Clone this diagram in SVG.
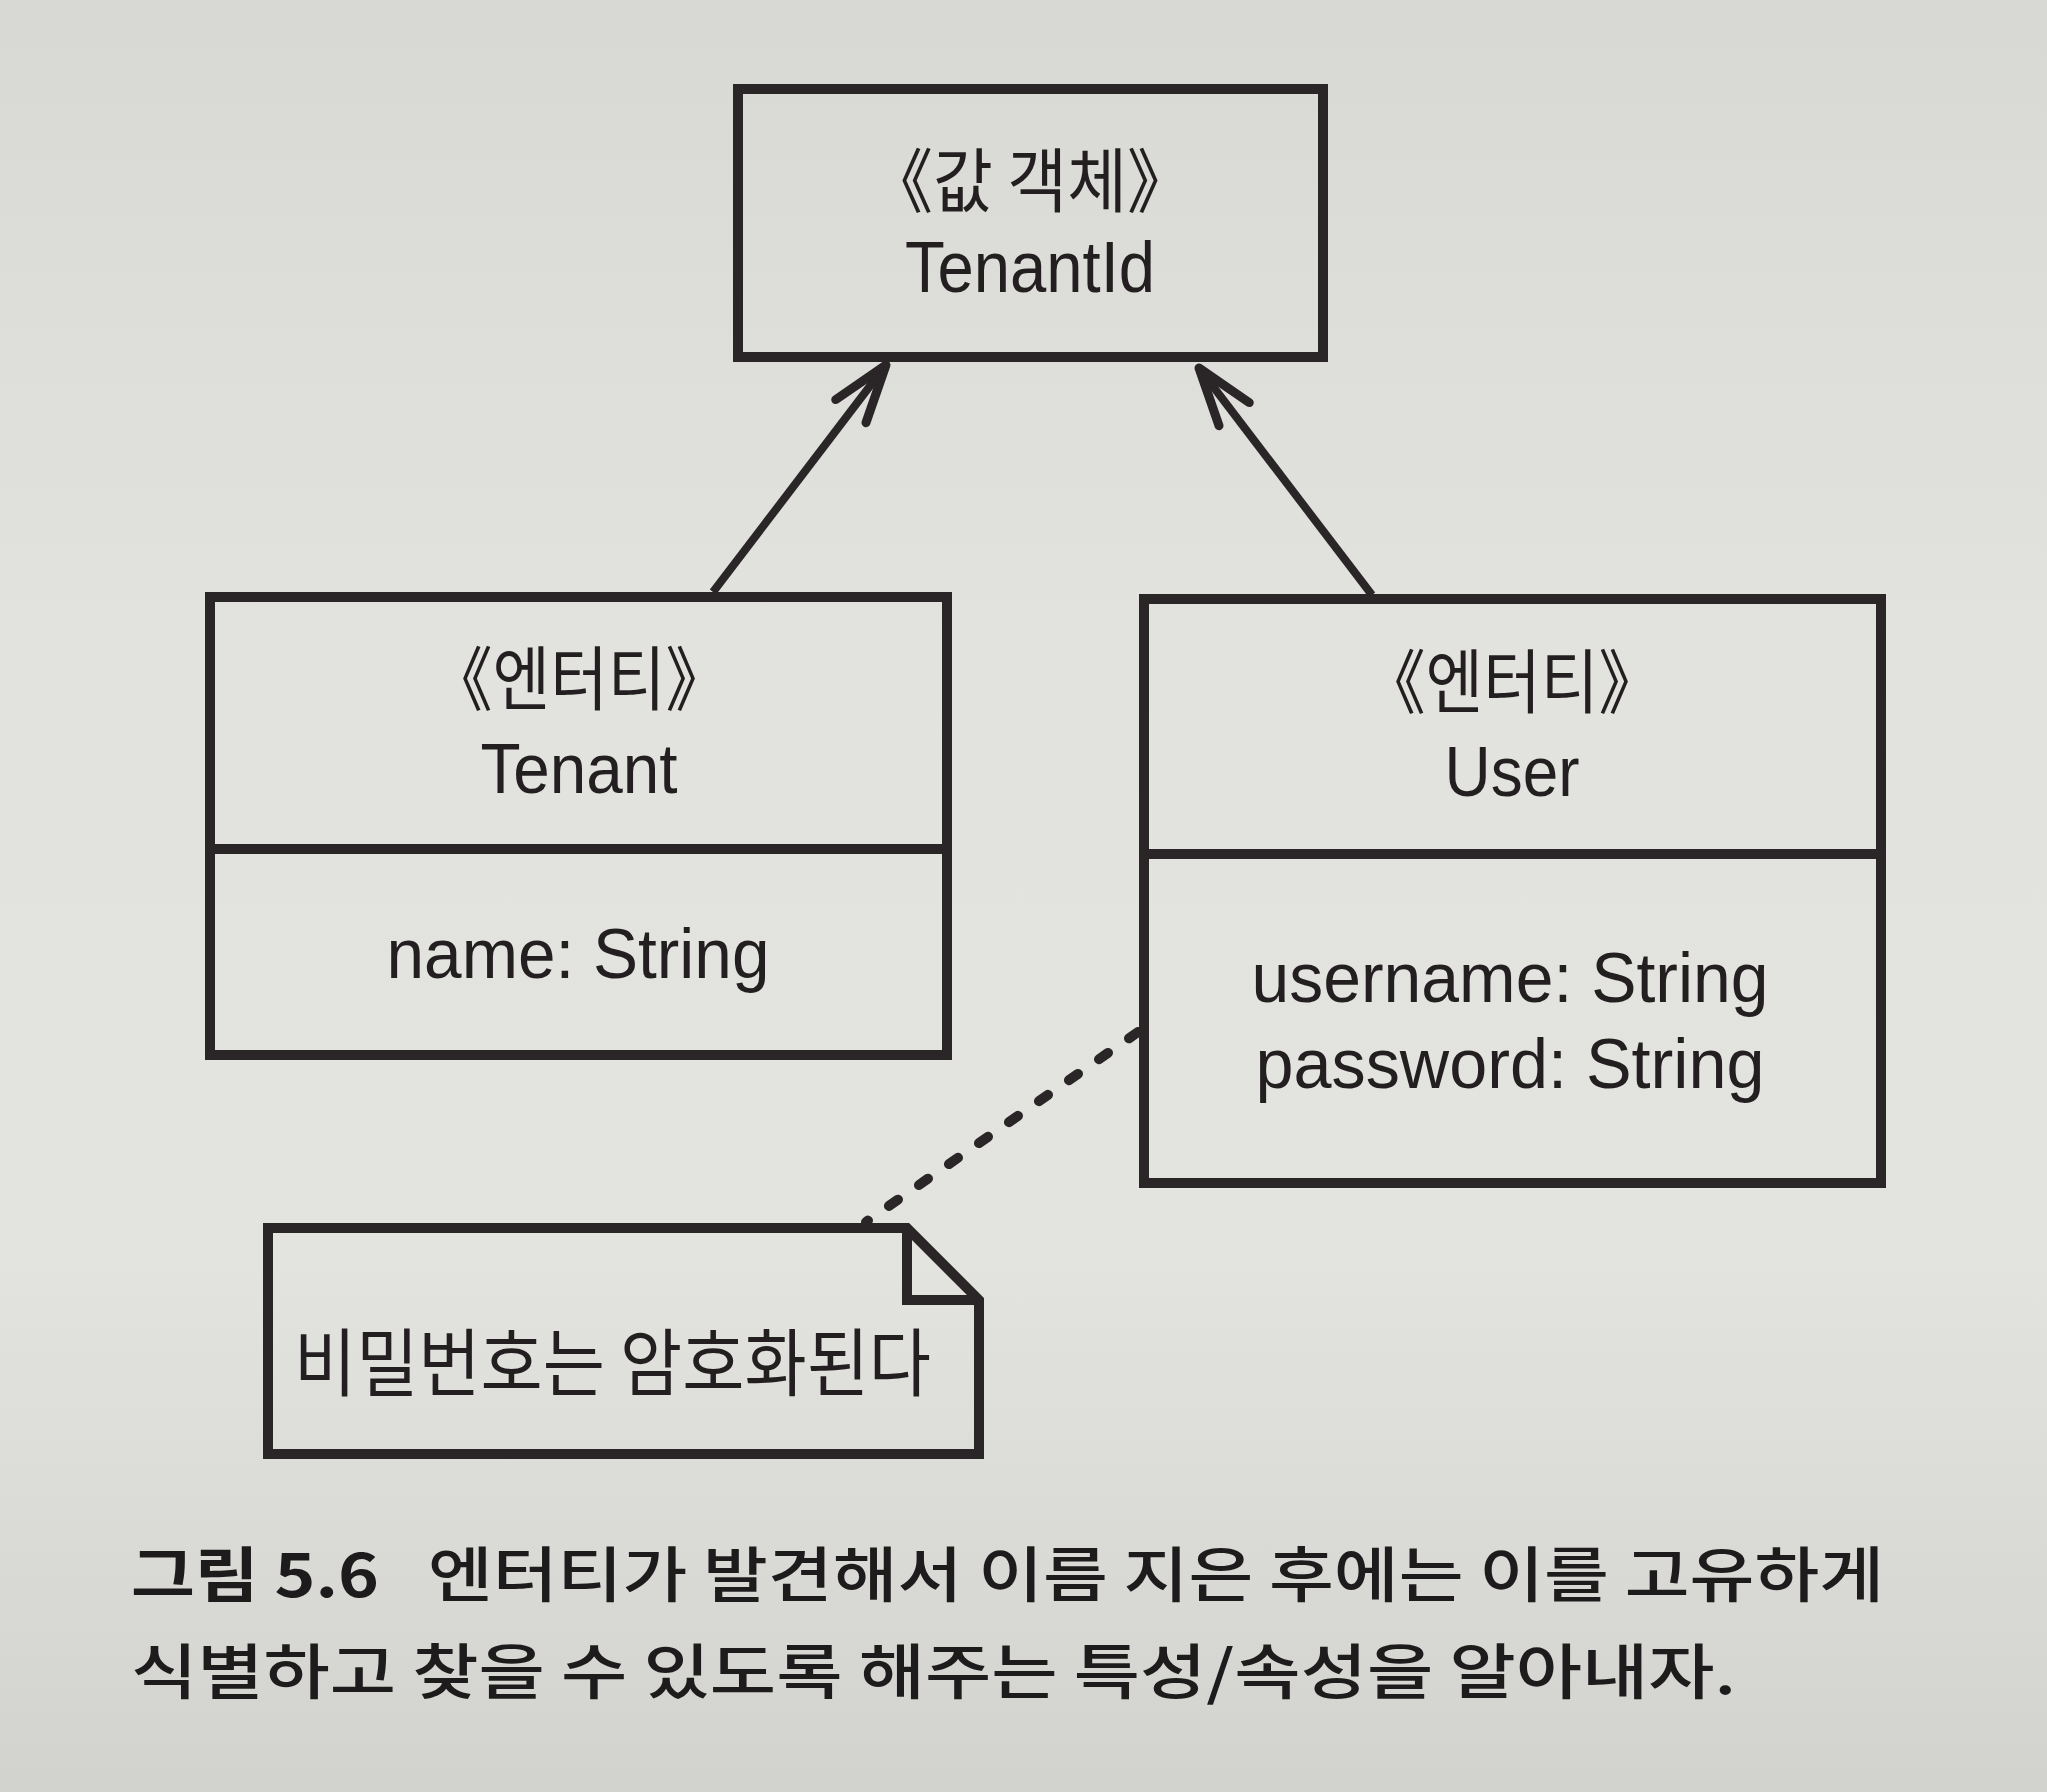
<svg xmlns="http://www.w3.org/2000/svg" width="2047" height="1792" viewBox="0 0 2047 1792">
<style>
.box{fill:none;stroke:#2a2627;stroke-width:10;stroke-linejoin:miter}
.ln{fill:none;stroke:#2a2627;stroke-width:8}
.kr{font-family:"Noto Sans CJK KR","Noto Sans",sans-serif;fill:#231f20}
.lat{font-family:"Liberation Sans","Noto Sans CJK KR",sans-serif;fill:#231f20}
.cap{font-family:"Noto Sans CJK KR","Noto Sans",sans-serif;fill:#1e1b1c;font-size:60px;font-weight:500}
</style>
<defs>
<linearGradient id="bg" x1="0" y1="0" x2="0" y2="1">
<stop offset="0" stop-color="#d8d8d5"/>
<stop offset="0.35" stop-color="#e2e2df"/>
<stop offset="0.7" stop-color="#e3e3e0"/>
<stop offset="1" stop-color="#d2d2cf"/>
</linearGradient>
<marker id="open" markerUnits="userSpaceOnUse" viewBox="-70 -30 80 60" refX="0" refY="0" markerWidth="80" markerHeight="60" orient="auto">
<path d="M-58,-19 L0,0 L-58,19" fill="none" stroke="#2a2627" stroke-width="9" stroke-linecap="round" stroke-linejoin="round"/>
</marker>
</defs>
<rect x="0" y="0" width="2047" height="1792" fill="url(#bg)"/>

<g id="connectors">
<line class="ln" x1="713" y1="592" x2="886" y2="365" marker-end="url(#open)"/>
<line class="ln" x1="1372" y1="595" x2="1199" y2="368" marker-end="url(#open)"/>
<line x1="1138" y1="1032" x2="866" y2="1222" stroke="#2a2627" stroke-width="10" stroke-linecap="round" stroke-dasharray="11 25.6"/>
</g>

<g id="tenantid">
<rect class="box" x="738" y="89" width="585" height="268"/>
<text class="kr" x="1030" y="207" font-size="70" text-anchor="middle" textLength="324" lengthAdjust="spacingAndGlyphs">《값 객체》</text>
<text class="lat" x="1030" y="292" font-size="72" text-anchor="middle" textLength="250" lengthAdjust="spacingAndGlyphs">TenantId</text>
</g>

<g id="tenant">
<rect class="box" x="210" y="597" width="737" height="458"/>
<line class="box" x1="210" y1="849" x2="947" y2="849"/>
<text class="kr" x="579" y="705" font-size="70" text-anchor="middle" textLength="298" lengthAdjust="spacingAndGlyphs">《엔터티》</text>
<text class="lat" x="579" y="793" font-size="70" text-anchor="middle" textLength="197" lengthAdjust="spacingAndGlyphs">Tenant</text>
<text class="lat" x="578" y="978" font-size="70" text-anchor="middle" textLength="383" lengthAdjust="spacingAndGlyphs">name: String</text>
</g>

<g id="user">
<rect class="box" x="1144" y="599" width="737" height="584"/>
<line class="box" x1="1144" y1="854" x2="1881" y2="854"/>
<text class="kr" x="1512" y="708" font-size="70" text-anchor="middle" textLength="298" lengthAdjust="spacingAndGlyphs">《엔터티》</text>
<text class="lat" x="1512" y="796" font-size="70" text-anchor="middle" textLength="135" lengthAdjust="spacingAndGlyphs">User</text>
<text class="lat" x="1510" y="1002" font-size="70" text-anchor="middle" textLength="517" lengthAdjust="spacingAndGlyphs">username: String</text>
<text class="lat" x="1510" y="1088" font-size="70" text-anchor="middle" textLength="509" lengthAdjust="spacingAndGlyphs">password: String</text>
</g>

<g id="note">
<path class="box" d="M268,1228 L907,1228 L979,1300 L979,1454 L268,1454 Z"/>
<path class="box" d="M907,1228 L907,1300 L979,1300"/>
<text class="kr" x="294" y="1390" font-size="74" textLength="637" lengthAdjust="spacingAndGlyphs">비밀번호는 암호화된다</text>
</g>

<g id="caption">
<text class="cap" x="131" y="1597" font-weight="bold" textLength="248" lengthAdjust="spacingAndGlyphs" style="font-weight:bold">그림 5.6</text>
<text class="cap" x="428" y="1597" textLength="1456" lengthAdjust="spacingAndGlyphs">엔터티가 발견해서 이름 지은 후에는 이를 고유하게</text>
<text class="cap" x="131" y="1694" textLength="1605" lengthAdjust="spacingAndGlyphs">식별하고 찾을 수 있도록 해주는 특성/속성을 알아내자.</text>
</g>
</svg>
